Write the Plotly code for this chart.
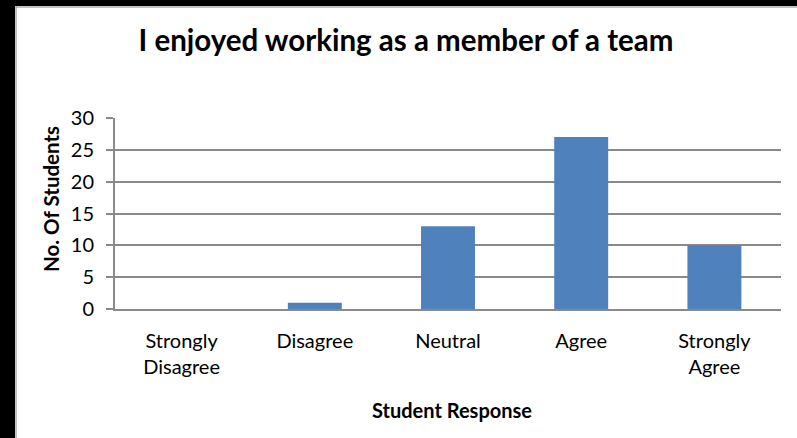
import plotly.graph_objects as go

categories = ["Strongly<br>Disagree", "Disagree", "Neutral", "Agree", "Strongly<br>Agree"]
values = [0, 1, 13, 27, 10]
y_ticks = [0, 5, 10, 15, 20, 25, 30]

W, H = 797, 438
L, R, T, B = 115, 16, 118, 129
pw, ph = W - L - R, H - T - B

def px(x):
    return (x - L) / pw

def py(y):
    return (H - B - y) / ph

FONT = "Lato, Open Sans, sans-serif"
GRID = "#8a8a8a"

fig = go.Figure(go.Bar(x=categories, y=values, marker=dict(color="#4F81BD", line=dict(width=0)),
                       hoverinfo="skip"))

fig.update_layout(
    width=W, height=H,
    margin=dict(l=L, r=R, t=T, b=B),
    paper_bgcolor="white", plot_bgcolor="white",
    bargap=0.595,
    font=dict(family=FONT, size=20, color="black"),
    title=dict(text="<b>I enjoyed working as a member of a team</b>", x=px(406), xanchor="center", xref="paper",
               y=1 - 41 / H, yanchor="middle", font=dict(size=29.5, family=FONT)),
    showlegend=False,
)
fig.update_xaxes(showline=True, linecolor=GRID, linewidth=2, ticks="",
                 ticklabelstandoff=13, tickfont=dict(size=20))
fig.update_yaxes(range=[0, 30], tickvals=y_ticks, showgrid=True, gridcolor=GRID, gridwidth=2,
                 showline=True, linecolor=GRID, linewidth=2, ticks="outside", ticklen=7,
                 tickcolor=GRID, tickwidth=2, zeroline=False, ticklabelstandoff=8,
                 tickfont=dict(size=20))

fig.add_annotation(text="<b>No. Of Students</b>", xref="paper", yref="paper", x=px(51), y=py(199),
                   textangle=-90, showarrow=False, font=dict(size=20.5, family=FONT),
                   xanchor="center", yanchor="middle")
fig.add_annotation(text="<b>Student Response</b>", xref="paper", yref="paper", x=px(452), y=py(410),
                   showarrow=False, font=dict(size=20, family=FONT), xanchor="center", yanchor="middle")

# black frame edges
fig.add_shape(type="rect", xref="paper", yref="paper", x0=px(-10), x1=px(15), y0=py(H + 10), y1=py(-10),
              fillcolor="black", line=dict(width=0), layer="above")
fig.add_shape(type="rect", xref="paper", yref="paper", x0=px(-10), x1=px(W + 10), y0=py(6), y1=py(-10),
              fillcolor="black", line=dict(width=0), layer="above")
fig.add_shape(type="line", xref="paper", yref="paper", x0=px(16), x1=px(16), y0=py(H), y1=py(6),
              line=dict(color="#888888", width=1), layer="above")
fig.add_shape(type="line", xref="paper", yref="paper", x0=px(16), x1=px(W), y0=py(7), y1=py(7),
              line=dict(color="#888888", width=1), layer="above")

fig.write_html("out.html", config={"displayModeBar": False},
               post_script="document.body.style.margin='0';document.body.style.overflow='hidden';")
